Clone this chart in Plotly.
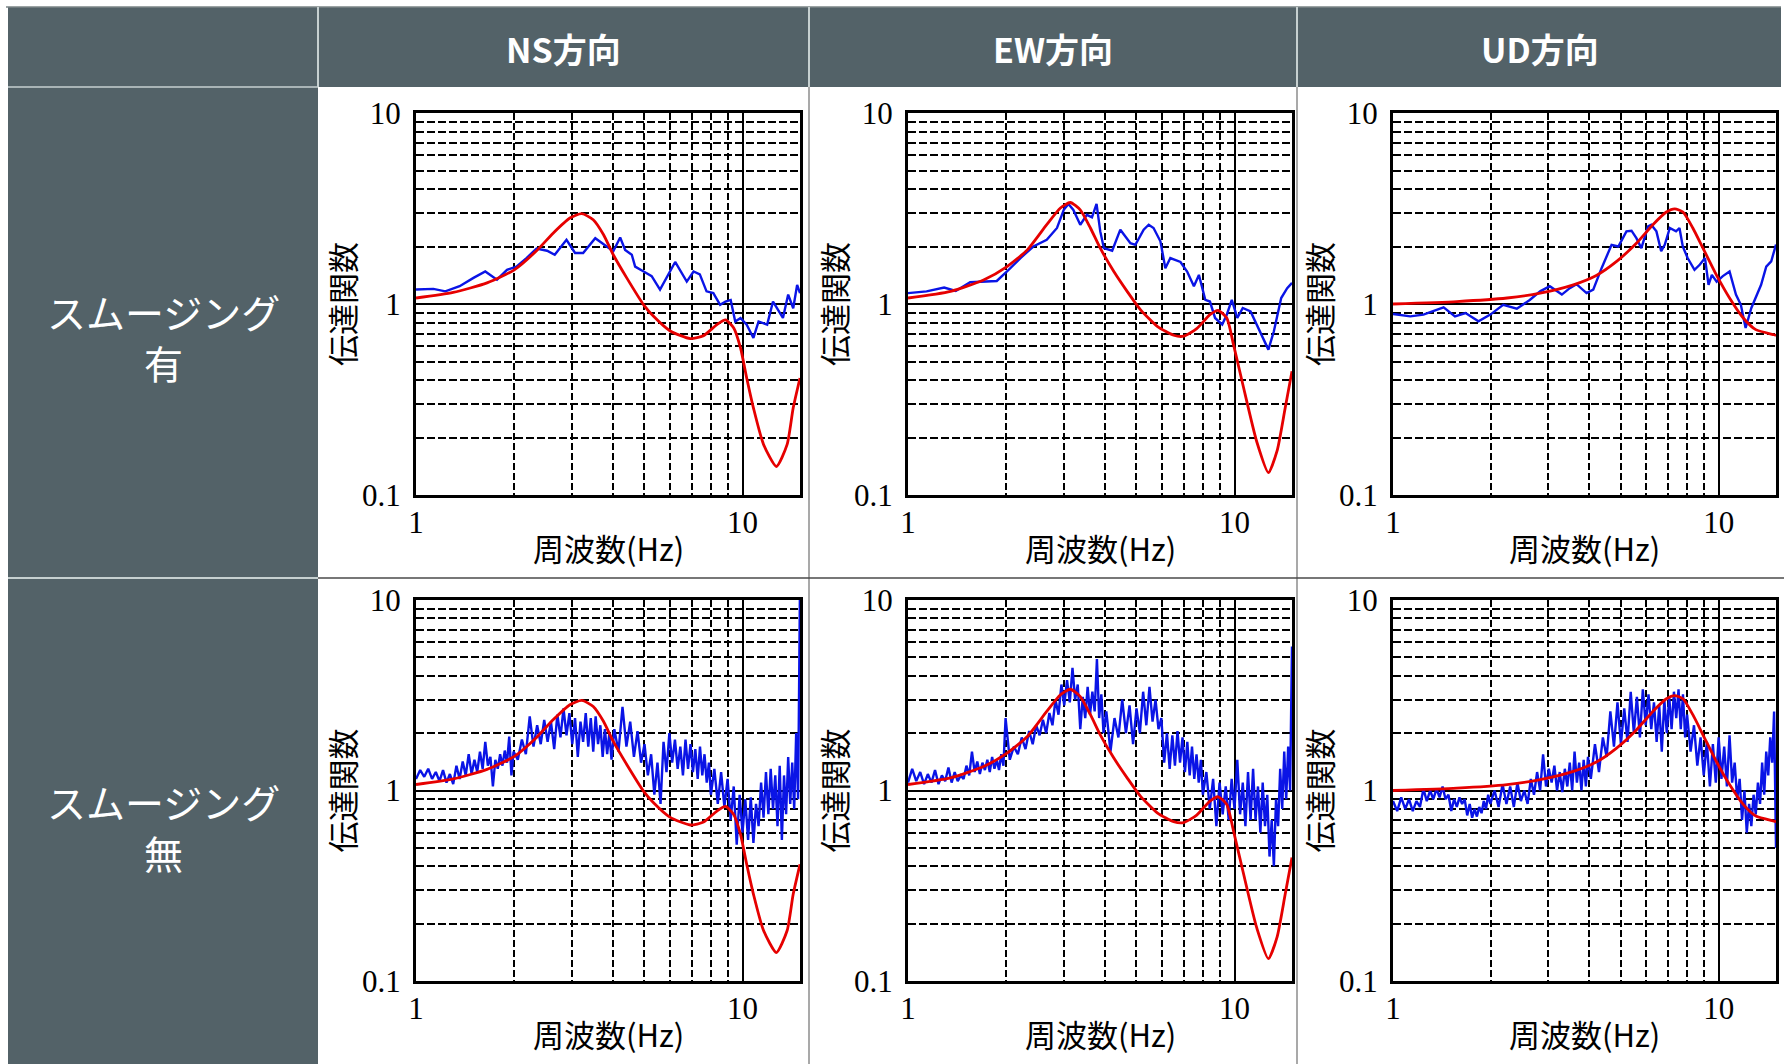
import math
import plotly.graph_objects as go

W, H = 1784, 1064

# ---------------------------------------------------------------- labels
components = ["NS方向", "EW方向", "UD方向"]
row_labels = [("スムージング", "有"), ("スムージング", "無")]
x_title = "周波数(Hz)"
y_title = "伝達関数"

# axis ranges and tick values
x_range = [1.0, 15.0]
y_range = [0.1, 10.0]
x_major = [1, 10]
x_major_text = ["1", "10"]
x_minor = [2, 3, 4, 5, 6, 7, 8, 9]
y_major = [0.1, 1, 10]
y_major_text = ["0.1", "1", "10"]
y_minor = [0.2, 0.3, 0.4, 0.5, 0.6, 0.7, 0.8, 0.9, 2, 3, 4, 5, 6, 7, 8, 9]

# ---------------------------------------------------------------- model (red)
freq_ns_model = [1.0, 1.30, 1.65, 2.0, 2.34, 2.63, 2.96, 3.22, 3.49, 3.75, 4.02, 4.42, 4.98, 5.34,
                 5.99, 6.92, 7.6, 8.35, 8.87, 9.4, 9.86, 10.3, 10.8, 11.6, 12.7, 13.7, 14.3, 15.0]
tf_ns_model = [1.075, 1.15, 1.29, 1.51, 1.90, 2.35, 2.82, 2.97, 2.76, 2.31, 1.81, 1.37, 0.99, 0.862,
               0.725, 0.659, 0.683, 0.78, 0.825, 0.749, 0.589, 0.41, 0.286, 0.184, 0.141, 0.184, 0.286, 0.41]

freq_ew_model = [1.0, 1.35, 1.71, 2.01, 2.32, 2.66, 2.93, 3.14, 3.37, 3.62, 3.88, 4.27, 4.69, 5.15,
                 5.80, 6.51, 6.98, 7.66, 8.41, 8.9, 9.47, 9.93, 10.6, 11.7, 12.7, 13.5, 14.3, 15.0]
tf_ew_model = [1.075, 1.165, 1.34, 1.57, 1.92, 2.60, 3.18, 3.40, 3.11, 2.50, 1.96, 1.48, 1.165, 0.934,
               0.764, 0.686, 0.678, 0.743, 0.879, 0.927, 0.845, 0.613, 0.38, 0.19, 0.131, 0.17, 0.286, 0.445]

freq_ud_model = [1.0, 1.57, 2.24, 2.83, 3.58, 4.21, 4.86, 5.59, 6.28, 6.91, 7.33, 7.77, 8.33, 8.95,
                 9.84, 10.8, 11.9, 13.0, 14.8, 15.0]
tf_ud_model = [1.0, 1.03, 1.075, 1.14, 1.26, 1.41, 1.67, 2.08, 2.60, 3.03, 3.15, 3.03, 2.50, 1.96,
               1.42, 1.075, 0.845, 0.734, 0.69, 0.685]

# ---------------------------------------------------------------- observed, smoothed (blue, top row)
freq_ns_smooth = [1.0, 1.13, 1.23, 1.36, 1.50, 1.63, 1.77, 1.90, 2.03, 2.18, 2.34, 2.52, 2.66, 2.89,
                  3.07, 3.25, 3.54, 3.75, 4.02, 4.22, 4.37, 4.58, 4.69, 4.98, 5.27, 5.59, 5.86, 6.22,
                  6.75, 7.08, 7.40, 7.76, 8.14, 8.54, 8.87, 9.20, 9.50, 9.86, 10.3, 10.8, 11.2, 11.9,
                  12.4, 12.9, 13.3, 13.8, 14.3, 14.7, 15.0]
tf_ns_smooth = [1.19, 1.20, 1.165, 1.24, 1.37, 1.48, 1.34, 1.51, 1.57, 1.74, 1.95, 1.90, 1.81, 2.17,
                1.85, 1.85, 2.21, 2.06, 1.89, 2.23, 1.92, 1.81, 1.57, 1.48, 1.40, 1.19, 1.37, 1.66,
                1.31, 1.48, 1.43, 1.165, 1.14, 0.99, 1.03, 1.05, 0.81, 0.845, 0.78, 0.664, 0.81, 0.78,
                1.03, 0.915, 0.845, 1.12, 0.95, 1.26, 1.14]

freq_ew_smooth = [1.0, 1.14, 1.29, 1.40, 1.55, 1.71, 1.87, 2.01, 2.21, 2.42, 2.66, 2.86, 3.0, 3.1,
                  3.21, 3.37, 3.53, 3.66, 3.78, 3.88, 3.98, 4.22, 4.47, 4.80, 4.97, 5.27, 5.46, 5.65,
                  5.93, 6.14, 6.36, 6.83, 7.16, 7.51, 7.78, 8.14, 8.41, 8.72, 9.17, 9.47, 9.81, 10.2,
                  10.6, 11.2, 11.7, 12.3, 12.7, 13.2, 13.9, 14.5, 15.0]
tf_ew_smooth = [1.14, 1.165, 1.22, 1.17, 1.30, 1.31, 1.32, 1.48, 1.74, 2.00, 2.17, 2.50, 3.11, 3.34,
                3.11, 2.60, 2.93, 2.84, 3.34, 2.40, 1.96, 1.90, 2.45, 2.08, 2.04, 2.45, 2.60, 2.50,
                2.13, 1.54, 1.74, 1.66, 1.48, 1.24, 1.42, 1.05, 1.03, 0.845, 0.78, 0.879, 1.05, 0.845,
                0.953, 0.915, 0.78, 0.638, 0.577, 0.72, 1.075, 1.21, 1.29]

freq_ud_smooth = [1.0, 1.13, 1.24, 1.43, 1.55, 1.67, 1.83, 1.99, 2.18, 2.40, 2.63, 2.83, 3.03, 3.30,
                  3.49, 3.66, 3.93, 4.12, 4.37, 4.69, 4.92, 5.21, 5.40, 5.59, 5.79, 6.07, 6.21, 6.44,
                  6.66, 6.83, 7.08, 7.40, 7.58, 7.76, 8.03, 8.43, 8.76, 9.08, 9.31, 9.53, 9.86, 10.3,
                  10.8, 11.3, 11.7, 12.1, 12.6, 13.0, 13.5, 14.0, 14.5, 15.0]
tf_ud_smooth = [0.887, 0.862, 0.88, 0.96, 0.862, 0.897, 0.812, 0.88, 0.99, 0.945, 1.05, 1.165, 1.24, 1.12,
                1.21, 1.27, 1.14, 1.19, 1.54, 2.04, 2.0, 2.40, 2.42, 2.21, 1.96, 2.55, 2.60, 2.40,
                1.89, 2.04, 2.50, 2.40, 2.50, 2.0, 1.74, 1.51, 1.61, 1.74, 1.26, 1.42, 1.31, 1.40,
                1.48, 1.12, 0.99, 0.749, 0.953, 1.075, 1.26, 1.57, 1.67, 2.05]

# ---------------------------------------------------------------- observed, raw (blue, bottom row)
freq_raw = [1.00, 1.03, 1.06, 1.09, 1.12, 1.15, 1.18, 1.21, 1.24, 1.27, 1.30, 1.33, 1.36, 1.39, 1.42,
            1.45, 1.48, 1.51, 1.54, 1.57, 1.60, 1.63, 1.66, 1.69, 1.72, 1.75, 1.78, 1.81, 1.84, 1.87,
            1.90, 1.93, 1.96, 1.99,
            2.05, 2.11, 2.17, 2.23, 2.29, 2.35, 2.41, 2.47, 2.53, 2.59, 2.65, 2.71, 2.77, 2.83, 2.89,
            2.95, 3.01, 3.07, 3.13, 3.19, 3.25, 3.31, 3.37, 3.43, 3.49, 3.55, 3.61, 3.67, 3.73, 3.79,
            3.85, 3.91, 3.97,
            4.05, 4.17, 4.29, 4.41, 4.53, 4.65, 4.77, 4.89, 5.01, 5.13, 5.25, 5.37, 5.49, 5.61, 5.73,
            5.85, 5.97, 6.09, 6.21, 6.33, 6.45, 6.57, 6.69, 6.81, 6.93, 7.05, 7.17, 7.29, 7.41, 7.53,
            7.65, 7.77, 7.89,
            8.0, 8.2, 8.4, 8.6, 8.8, 9.0, 9.2, 9.4, 9.6, 9.8, 10.0, 10.2, 10.4, 10.6, 10.8, 11.0, 11.2,
            11.4, 11.6, 11.8, 12.0, 12.2, 12.4, 12.6, 12.8, 13.0, 13.2, 13.4, 13.6, 13.8, 14.0, 14.2,
            14.4, 14.6, 14.8, 15.0]

tf_ns_raw = [1.15, 1.28, 1.18, 1.30, 1.15, 1.25, 1.12, 1.28, 1.10, 1.22, 1.08, 1.35, 1.15, 1.42, 1.20,
             1.55, 1.22, 1.45, 1.25, 1.60, 1.30, 1.80, 1.35, 1.50, 1.05, 1.45, 1.30, 1.55, 1.35, 1.62,
             1.40, 1.92, 1.20, 1.60,
             1.45, 1.85, 1.55, 2.45, 1.70, 2.20, 1.75, 2.35, 1.80, 2.30, 1.65, 2.50, 1.90, 2.70, 1.95,
             2.55, 1.75, 2.40, 1.50, 2.30, 1.80, 2.55, 1.70, 2.40, 1.60, 2.45, 1.75, 2.20, 1.50, 2.10,
             1.55, 2.00, 1.45,
             2.10, 1.60, 2.75, 1.70, 2.30, 1.50, 2.05, 1.40, 1.75, 1.20, 1.55, 0.95, 1.40, 0.85, 1.80,
             1.25, 2.00, 1.40, 1.85, 1.30, 1.70, 1.20, 1.85, 1.30, 1.75, 1.25, 1.65, 1.15, 1.70, 1.20,
             1.55, 1.10, 1.40,
             0.95, 1.30, 0.85, 1.25, 0.82, 1.15, 0.70, 1.05, 0.52, 0.95, 0.60, 0.90, 0.55, 0.92, 0.53,
             0.85, 0.65, 1.10, 0.72, 1.25, 0.75, 1.30, 0.80, 1.20, 0.65, 1.35, 0.55, 1.20, 0.75, 1.50,
             0.85, 1.40, 0.80, 2.00, 0.90, 12.0]

tf_ew_raw = [1.10, 1.30, 1.12, 1.25, 1.08, 1.22, 1.10, 1.28, 1.08, 1.20, 1.12, 1.32, 1.10, 1.25, 1.12,
             1.20, 1.15, 1.35, 1.20, 1.60, 1.25, 1.42, 1.22, 1.40, 1.28, 1.45, 1.25, 1.50, 1.30, 1.45,
             1.28, 1.55, 1.35, 2.40,
             1.45, 1.70, 1.55, 1.90, 1.65, 2.05, 1.75, 2.20, 1.95, 2.35, 2.00, 2.55, 2.20, 3.00, 2.50,
             3.60, 2.80, 3.80, 2.90, 4.40, 3.00, 3.60, 2.10, 3.10, 2.40, 3.50, 2.50, 3.30, 2.60, 4.90,
             2.40, 3.20, 2.00,
             2.60, 1.60, 2.40, 1.90, 3.00, 2.00, 2.80, 1.75, 2.70, 2.00, 3.30, 2.20, 3.50, 2.30, 3.00,
             2.10, 2.40, 1.40, 2.00, 1.30, 1.95, 1.35, 2.05, 1.40, 1.90, 1.25, 1.80, 1.20, 1.70, 1.15,
             1.55, 1.10, 1.45,
             0.95, 1.25, 0.80, 1.15, 0.65, 1.10, 0.75, 1.05, 0.70, 1.15, 0.80, 1.45, 0.75, 1.10, 0.65,
             1.25, 0.70, 1.30, 0.70, 1.05, 0.60, 1.10, 0.65, 0.95, 0.45, 0.70, 0.40, 0.90, 0.65, 1.30,
             0.80, 1.60, 0.90, 1.70, 1.00, 5.70]

tf_ud_raw = [0.88, 0.78, 0.92, 0.80, 0.90, 0.78, 0.88, 0.82, 1.02, 0.88, 1.00, 0.90, 1.02, 0.92, 1.05,
             0.90, 0.95, 0.78, 0.90, 0.82, 0.92, 0.85, 0.90, 0.74, 0.85, 0.72, 0.80, 0.73, 0.82, 0.76,
             0.88, 0.80, 0.95, 0.85,
             1.00, 0.82, 1.08, 0.85, 1.05, 0.82, 1.10, 0.88, 1.00, 0.85, 1.15, 0.95, 1.25, 1.00, 1.55,
             1.05, 1.30, 1.10, 1.35, 1.00, 1.25, 0.98, 1.30, 1.05, 1.40, 1.00, 1.60, 1.10, 1.40, 1.00,
             1.45, 1.05, 1.50,
             1.15, 1.75, 1.25, 1.90, 1.50, 2.60, 1.70, 2.90, 1.75, 2.70, 1.80, 3.30, 2.00, 3.10, 1.90,
             3.40, 2.20, 3.20, 2.10, 2.90, 1.80, 2.80, 1.60, 3.00, 2.00, 3.10, 2.10, 3.30, 2.40, 3.40,
             2.10, 3.20, 1.90,
             2.50, 1.60, 2.20, 1.35, 1.90, 1.20, 1.80, 1.05, 1.75, 1.10, 1.90, 1.15, 1.70, 1.05, 1.95,
             1.10, 1.40, 0.90, 1.15, 0.70, 1.00, 0.60, 0.85, 0.65, 0.95, 0.75, 1.10, 0.85, 1.40, 0.95,
             1.60, 1.20, 1.90, 1.40, 2.60, 0.50]

# ---------------------------------------------------------------- styling
BLUE = "#0a14e6"
RED = "#e60000"
CELL_DARK = "#536268"
CELL_LINE_LIGHT = "#c6d0d0"
TICK_FONT = dict(family="Liberation Serif", size=31, color="black")
TITLE_FONT = dict(family="Noto Sans CJK JP", size=31, color="black")

# plot-area boxes in page pixels
col_px = [(416, 800), (908, 1292), (1393, 1776)]
row_px = [(113, 495), (600, 981)]


def px_x(p):
    return p / W


def px_y(p):
    return 1 - p / H


panels = [
    # (row, col, observed x, observed y, width, model x, model y)
    (0, 0, freq_ns_smooth, tf_ns_smooth, 2.4, freq_ns_model, tf_ns_model),
    (0, 1, freq_ew_smooth, tf_ew_smooth, 2.4, freq_ew_model, tf_ew_model),
    (0, 2, freq_ud_smooth, tf_ud_smooth, 2.4, freq_ud_model, tf_ud_model),
    (1, 0, freq_raw, tf_ns_raw, 2.4, freq_ns_model, tf_ns_model),
    (1, 1, freq_raw, tf_ew_raw, 2.4, freq_ew_model, tf_ew_model),
    (1, 2, freq_raw, tf_ud_raw, 2.4, freq_ud_model, tf_ud_model),
]

fig = go.Figure()
layout_axes = {}
annotations = []

for k, (r, c, fx, fy, bw, mx, my) in enumerate(panels):
    idx = k + 1
    xname = "x" if idx == 1 else f"x{idx}"
    yname = "y" if idx == 1 else f"y{idx}"
    x0, x1 = col_px[c]
    y0, y1 = row_px[r]

    fig.add_trace(go.Scatter(x=fx, y=fy, mode="lines", xaxis=xname, yaxis=yname,
                             line=dict(color=BLUE, width=bw), showlegend=False, hoverinfo="skip"))
    fig.add_trace(go.Scatter(x=mx, y=my, mode="lines", xaxis=xname, yaxis=yname,
                             line=dict(color=RED, width=2.8, shape="spline", smoothing=0.6),
                             showlegend=False, hoverinfo="skip"))

    common = dict(type="log", showline=True, linewidth=3, linecolor="black", mirror=True,
                  showgrid=True, gridcolor="black", gridwidth=1.5, zeroline=False,
                  tickcolor="rgba(0,0,0,0)", tickfont=TICK_FONT,
                  automargin=False, fixedrange=True)
    layout_axes["xaxis" if idx == 1 else f"xaxis{idx}"] = dict(
        common, domain=[px_x(x0), px_x(x1)], anchor=yname,
        range=[math.log10(x_range[0]), math.log10(x_range[1])],
        tickmode="array", tickvals=x_major, ticktext=x_major_text, ticks="",
        ticklabelstandoff=-2,
        minor=dict(tickvals=x_minor, showgrid=True, gridcolor="black", gridwidth=1.5,
                   griddash="7px,3px"),
    )
    layout_axes["yaxis" if idx == 1 else f"yaxis{idx}"] = dict(
        common, domain=[px_y(y1), px_y(y0)], anchor=xname,
        range=[math.log10(y_range[0]), math.log10(y_range[1])],
        tickmode="array", tickvals=y_major, ticktext=y_major_text, ticks="outside", ticklen=6,
        minor=dict(tickvals=y_minor, showgrid=True, gridcolor="black", gridwidth=1.5,
                   griddash="8px,3px"),
    )

    # axis titles
    annotations.append(dict(text=x_title, x=px_x((x0 + x1) / 2), y=px_y(y1 + 52),
                            xref="paper", yref="paper", showarrow=False, font=TITLE_FONT,
                            xanchor="center", yanchor="middle"))
    annotations.append(dict(text=y_title, x=px_x(x0 - 75), y=px_y((y0 + y1) / 2),
                            xref="paper", yref="paper", showarrow=False, font=TITLE_FONT,
                            textangle=-90, xanchor="center", yanchor="middle"))

# ---------------------------------------------------------------- table frame
shapes = []
shapes.append(dict(type="rect", xref="paper", yref="paper", x0=px_x(8), x1=px_x(1781),
                   y0=px_y(87), y1=px_y(7), fillcolor=CELL_DARK, line=dict(width=0), layer="below"))
shapes.append(dict(type="rect", xref="paper", yref="paper", x0=px_x(8), x1=px_x(318),
                   y0=px_y(1064), y1=px_y(87), fillcolor=CELL_DARK, line=dict(width=0), layer="below"))
shapes.append(dict(type="line", xref="paper", yref="paper", x0=px_x(6), x1=px_x(1781),
                   y0=px_y(7), y1=px_y(7), line=dict(color="#7a8486", width=1.5), layer="below"))
for xs in (318, 809, 1297):
    shapes.append(dict(type="line", xref="paper", yref="paper", x0=px_x(xs), x1=px_x(xs),
                       y0=px_y(87), y1=px_y(7), line=dict(color=CELL_LINE_LIGHT, width=2),
                       layer="below"))
shapes.append(dict(type="line", xref="paper", yref="paper", x0=px_x(8), x1=px_x(318),
                   y0=px_y(578), y1=px_y(578), line=dict(color=CELL_LINE_LIGHT, width=2),
                   layer="below"))
shapes.append(dict(type="line", xref="paper", yref="paper", x0=px_x(8), x1=px_x(318),
                   y0=px_y(87), y1=px_y(87), line=dict(color=CELL_LINE_LIGHT, width=1.5),
                   layer="below"))
for xs in (809, 1297):
    shapes.append(dict(type="line", xref="paper", yref="paper", x0=px_x(xs), x1=px_x(xs),
                       y0=px_y(1064), y1=px_y(87), line=dict(color="#8c8c8c", width=1.5),
                       layer="below"))
shapes.append(dict(type="line", xref="paper", yref="paper", x0=px_x(318), x1=px_x(1784),
                   y0=px_y(578), y1=px_y(578), line=dict(color="#4a4a4a", width=1.5),
                   layer="below"))

# header and row captions
head_font = dict(family="Noto Sans CJK JP", size=34, color="white", weight="bold")
for name, cx in zip(components, (563.5, 1053, 1540)):
    annotations.append(dict(text=name, x=px_x(cx), y=px_y(48), xref="paper", yref="paper",
                            showarrow=False, font=head_font, xanchor="center", yanchor="middle"))
row_font = dict(family="Noto Sans CJK JP", size=39, color="white")
for (line1, line2), (cy1, cy2) in zip(row_labels, ((311, 362), (801, 852))):
    for txt, cy in ((line1, cy1), (line2, cy2)):
        annotations.append(dict(text=txt, x=px_x(163), y=px_y(cy), xref="paper", yref="paper",
                                showarrow=False, font=row_font, xanchor="center",
                                yanchor="middle"))

fig.update_layout(
    width=W, height=H, margin=dict(l=0, r=0, t=0, b=0, pad=0),
    paper_bgcolor="white", plot_bgcolor="rgba(0,0,0,0)",
    shapes=shapes, annotations=annotations, showlegend=False,
    **layout_axes,
)

fig.write_html("out.html")
